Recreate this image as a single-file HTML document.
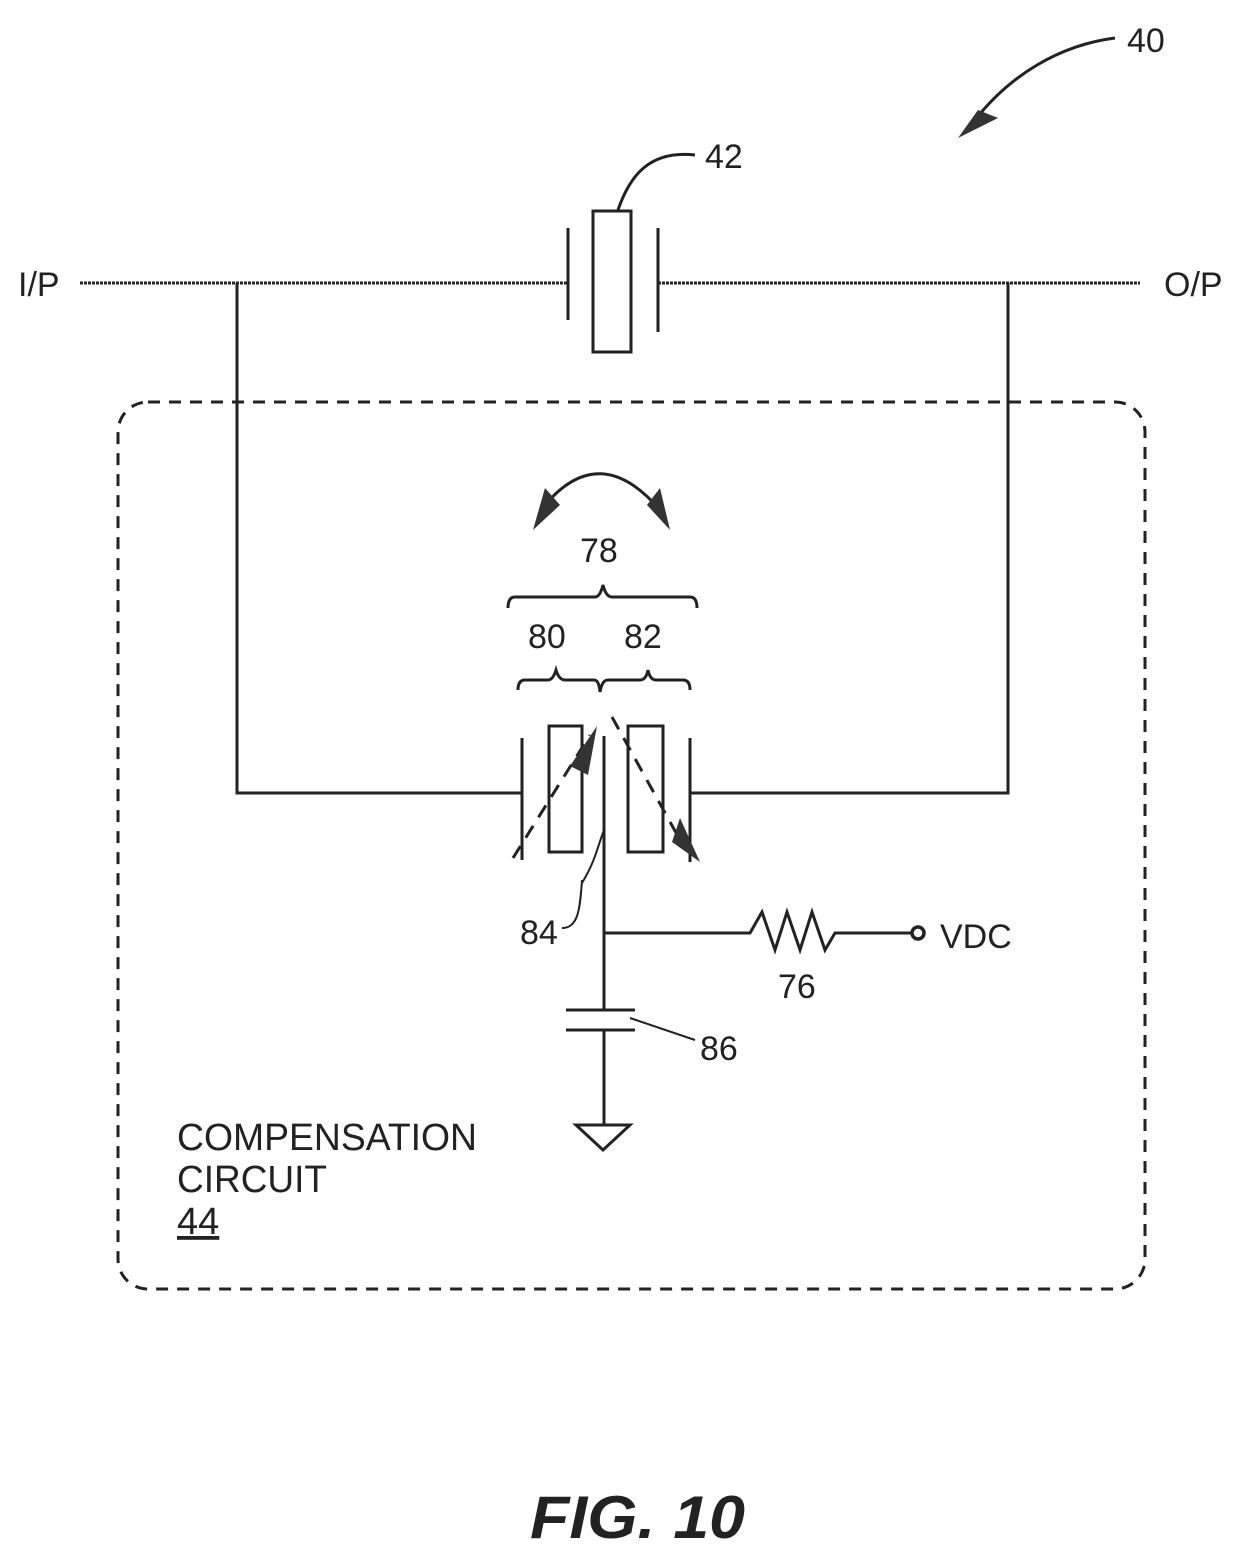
<!DOCTYPE html>
<html><head><style>
html,body{margin:0;padding:0;background:#fff}
svg{display:block}
text{font-family:"Liberation Sans",sans-serif;fill:#222}
</style></head><body>
<svg width="1248" height="1560" viewBox="0 0 1248 1560" xmlns="http://www.w3.org/2000/svg">
<g stroke="#222" fill="none" stroke-width="3">
<line x1="80" y1="283" x2="568" y2="283" stroke-dasharray="3 1"/>
<line x1="658" y1="283" x2="1140" y2="283" stroke-dasharray="3 1"/>
<line x1="568" y1="228" x2="568" y2="320"/>
<rect x="593" y="211" width="38" height="141"/>
<line x1="658" y1="228" x2="658" y2="332"/>
<path d="M695 155 C650 150 630 175 618 210"/>
<path d="M237 283 V793 H522"/>
<path d="M1008 283 V793 H690"/>
<rect x="118" y="402" width="1027" height="887" rx="30" stroke-dasharray="12 9"/>
<path d="M545 505 Q600 440 660 510"/>
<path d="M508 608 Q508 597 515 597 H595 Q600 597 603 585 Q606 597 612 597 H690 Q697 597 697 608"/>
<path d="M518 690 Q518 680 525 680 H548 Q553 680 556 670 Q559 680 565 680 H594 Q599 680 600 692 Q602 680 608 680 H640 Q646 680 648 670 Q650 680 656 680 H683 Q690 680 690 690"/>
<line x1="522" y1="738" x2="522" y2="860"/>
<rect x="549" y="726" width="33" height="126"/>
<line x1="604" y1="736" x2="604" y2="1010"/>
<rect x="628" y="726" width="35" height="126"/>
<line x1="690" y1="738" x2="690" y2="862"/>
<path d="M513 858 L590 735" stroke-dasharray="14 10"/>
<path d="M612 717 L680 840" stroke-dasharray="14 10"/>
<path d="M582 883 C596 860 598 845 604 830" stroke-width="2"/>
<path d="M562 928 C578 928 580 910 582 880" stroke-width="2"/>
<path d="M604 933 H750 L762 912 L775 950 L787 912 L800 950 L812 912 L825 950 L835 933 H912"/>
<circle cx="918" cy="933" r="6" stroke-width="3.5"/>
<line x1="566" y1="1010" x2="635" y2="1010"/>
<line x1="566" y1="1030" x2="635" y2="1030"/>
<line x1="604" y1="1030" x2="604" y2="1125"/>
<path d="M576 1125 H630 L603 1150 Z"/>
<path d="M630 1018 L695 1040" stroke-width="2"/>
<path d="M1115 38 C1060 45 1010 75 975 120"/>
</g>
<g fill="#333" stroke="none">
<polygon points="533,530 545,488 560,505"/>
<polygon points="670,530 647,505 660,488"/>
<polygon points="570,766 597,726 588,775"/>
<polygon points="672,842 700,862 680,818"/>
<polygon points="958,138 978,110 998,118"/>
</g>
<g font-size="34">
<text x="18" y="296">I/P</text>
<text x="1164" y="296">O/P</text>
<text x="705" y="168">42</text>
<text x="1127" y="52">40</text>
<text x="580" y="562">78</text>
<text x="528" y="648">80</text>
<text x="624" y="648">82</text>
<text x="520" y="944">84</text>
<text x="940" y="948">VDC</text>
<text x="778" y="998">76</text>
<text x="700" y="1060">86</text>
<text x="177" y="1150" font-size="38" textLength="300" lengthAdjust="spacingAndGlyphs">COMPENSATION</text>
<text x="177" y="1192" font-size="38" textLength="150" lengthAdjust="spacingAndGlyphs">CIRCUIT</text>
<text x="177" y="1234" font-size="38" text-decoration="underline">44</text>
<text x="530" y="1538" font-size="60" font-weight="bold" font-style="italic" textLength="215" lengthAdjust="spacingAndGlyphs">FIG. 10</text>
</g>
</svg>
</body></html>
